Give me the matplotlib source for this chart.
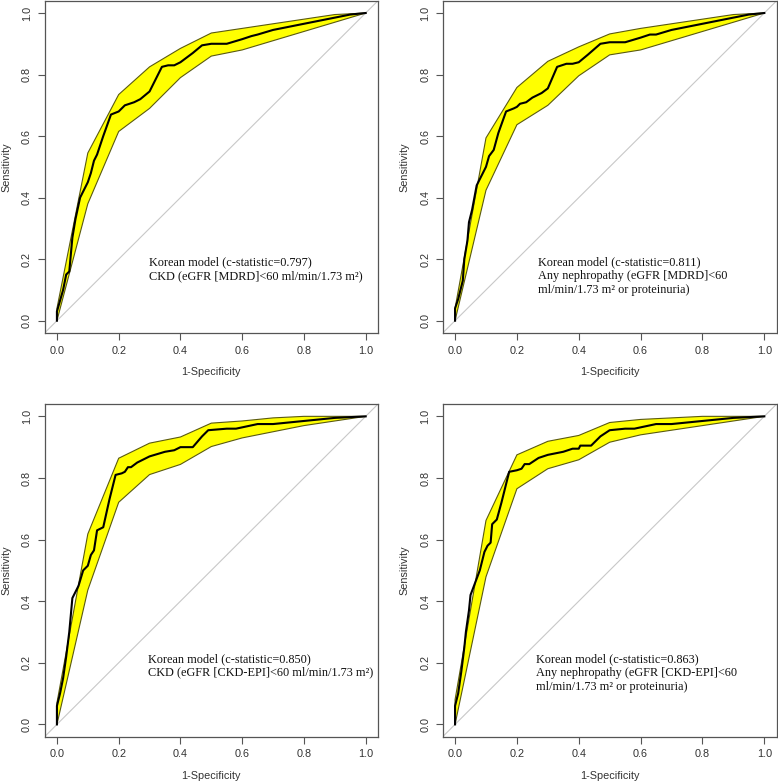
import matplotlib
matplotlib.use("Agg")
import matplotlib.pyplot as plt

# ROC curves (1-specificity, sensitivity) for each panel
fpr_1 = [0, 0, 0.02, 0.03, 0.04, 0.05, 0.06, 0.075, 0.09, 0.10, 0.11, 0.12, 0.13, 0.15, 0.175,
         0.20, 0.21, 0.22, 0.25, 0.27, 0.30, 0.34, 0.36, 0.38, 0.40, 0.44, 0.47, 0.50, 0.55,
         0.60, 0.63, 0.65, 0.70, 0.80, 0.90, 0.95, 1.0]
tpr_1 = [0, 0.03, 0.10, 0.15, 0.16, 0.27, 0.33, 0.40, 0.43, 0.45, 0.48, 0.52, 0.54, 0.60, 0.67,
         0.68, 0.69, 0.70, 0.71, 0.72, 0.745, 0.825, 0.83, 0.83, 0.84, 0.87, 0.895, 0.90, 0.90,
         0.915, 0.925, 0.93, 0.945, 0.965, 0.985, 0.995, 1.0]

fpr_2 = [0, 0, 0.01, 0.025, 0.03, 0.04, 0.045, 0.055, 0.07, 0.08, 0.09, 0.10, 0.11, 0.125, 0.14,
         0.165, 0.19, 0.20, 0.21, 0.23, 0.25, 0.28, 0.30, 0.33, 0.36, 0.38, 0.40, 0.43, 0.47,
         0.50, 0.55, 0.60, 0.63, 0.65, 0.70, 0.80, 0.90, 0.95, 1.0]
tpr_2 = [0, 0.04, 0.07, 0.13, 0.20, 0.26, 0.32, 0.36, 0.44, 0.46, 0.48, 0.50, 0.535, 0.555, 0.61,
         0.68, 0.69, 0.695, 0.705, 0.71, 0.725, 0.74, 0.755, 0.825, 0.835, 0.835, 0.84, 0.865, 0.90,
         0.905, 0.905, 0.92, 0.93, 0.93, 0.945, 0.965, 0.985, 0.995, 1.0]

fpr_3 = [0, 0, 0.01, 0.02, 0.03, 0.04, 0.05, 0.07, 0.085, 0.10, 0.11, 0.12, 0.13, 0.15, 0.17,
         0.19, 0.21, 0.22, 0.23, 0.24, 0.26, 0.30, 0.35, 0.38, 0.40, 0.44, 0.47, 0.49, 0.55,
         0.58, 0.65, 0.70, 0.80, 0.90, 1.0]
tpr_3 = [0, 0.06, 0.10, 0.15, 0.22, 0.30, 0.41, 0.45, 0.50, 0.515, 0.55, 0.565, 0.63, 0.64, 0.73,
         0.81, 0.815, 0.82, 0.835, 0.835, 0.85, 0.87, 0.885, 0.89, 0.90, 0.90, 0.935, 0.955, 0.96,
         0.96, 0.975, 0.975, 0.985, 0.995, 1.0]

fpr_4 = [0, 0, 0.01, 0.02, 0.03, 0.035, 0.045, 0.05, 0.065, 0.08, 0.085, 0.095, 0.105, 0.115, 0.12,
         0.135, 0.15, 0.175, 0.20, 0.215, 0.225, 0.24, 0.27, 0.30, 0.35, 0.38, 0.40, 0.405, 0.44,
         0.47, 0.50, 0.55, 0.58, 0.65, 0.70, 0.80, 0.90, 1.0]
tpr_4 = [0, 0.06, 0.10, 0.17, 0.25, 0.30, 0.37, 0.42, 0.46, 0.50, 0.52, 0.56, 0.58, 0.59, 0.65,
         0.665, 0.72, 0.82, 0.825, 0.83, 0.845, 0.845, 0.865, 0.875, 0.885, 0.895, 0.895, 0.905, 0.905,
         0.935, 0.955, 0.96, 0.96, 0.975, 0.975, 0.985, 0.995, 1.0]

# confidence band of sensitivity at fixed 1-specificity
ci_x = [0.0, 0.1, 0.2, 0.3, 0.4, 0.5, 0.6, 0.7, 0.8, 0.9, 1.0]
ci_hi_1 = [0.04, 0.545, 0.735, 0.825, 0.885, 0.935, 0.95, 0.965, 0.98, 0.995, 1.0]
ci_lo_1 = [0.0, 0.38, 0.615, 0.69, 0.79, 0.86, 0.88, 0.91, 0.94, 0.97, 1.0]
ci_hi_2 = [0.04, 0.594, 0.758, 0.843, 0.89, 0.932, 0.95, 0.965, 0.98, 0.995, 1.0]
ci_lo_2 = [0.0, 0.424, 0.637, 0.70, 0.796, 0.864, 0.88, 0.91, 0.94, 0.97, 1.0]
ci_hi_3 = [0.07, 0.618, 0.864, 0.913, 0.933, 0.978, 0.985, 0.995, 1.0, 1.0, 1.0]
ci_lo_3 = [0.0, 0.436, 0.721, 0.811, 0.844, 0.902, 0.93, 0.95, 0.97, 0.985, 1.0]
ci_hi_4 = [0.08, 0.662, 0.875, 0.919, 0.938, 0.98, 0.99, 0.995, 1.0, 1.0, 1.0]
ci_lo_4 = [0.0, 0.479, 0.765, 0.83, 0.859, 0.916, 0.94, 0.955, 0.97, 0.985, 1.0]

labels = [
    "Korean model (c-statistic=0.797)\nCKD (eGFR [MDRD]<60 ml/min/1.73 m\u00b2)",
    "Korean model (c-statistic=0.811)\nAny nephropathy (eGFR [MDRD]<60\nml/min/1.73 m\u00b2 or proteinuria)",
    "Korean model (c-statistic=0.850)\nCKD (eGFR [CKD-EPI]<60 ml/min/1.73 m\u00b2)",
    "Korean model (c-statistic=0.863)\nAny nephropathy (eGFR [CKD-EPI]<60\nml/min/1.73 m\u00b2 or proteinuria)",
]
label_pos = [(0.298, 0.21), (0.267, 0.21), (0.294, 0.232), (0.263, 0.232)]

panels = [
    (fpr_1, tpr_1, ci_hi_1, ci_lo_1),
    (fpr_2, tpr_2, ci_hi_2, ci_lo_2),
    (fpr_3, tpr_3, ci_hi_3, ci_lo_3),
    (fpr_4, tpr_4, ci_hi_4, ci_lo_4),
]

# axes rectangles (left, bottom, width, height) in figure fraction
rects = [
    (0.0573, 0.5747, 0.4286, 0.4244),
    (0.5690, 0.5747, 0.4293, 0.4244),
    (0.0573, 0.0591, 0.4286, 0.4249),
    (0.5690, 0.0591, 0.4293, 0.4249),
]

fig = plt.figure(figsize=(7.78, 7.83), dpi=100)
box_col = "#555555"
txt_col = "#333333"

for i, (fx, ty, hi, lo) in enumerate(panels):
    ax = fig.add_axes(rects[i])
    ax.set_xlim(-0.04, 1.04)
    ax.set_ylim(-0.04, 1.04)

    # diagonal reference line across the whole box
    ax.plot([-0.04, 1.04], [-0.04, 1.04], color="#c8c8c8", lw=0.8, zorder=1)

    band_x = ci_x + ci_x[::-1]
    band_y = hi + lo[::-1]
    ax.fill(band_x, band_y, facecolor="#ffff00", edgecolor="#5a5a10", lw=0.8, zorder=2)
    ax.plot(fx, ty, color="black", lw=1.5, zorder=3)

    ax.text(label_pos[i][0], label_pos[i][1], labels[i], family="Liberation Serif",
            fontsize=8.8, va="top", ha="left", linespacing=1.2, color="#111111")

    ticks = [0.0, 0.2, 0.4, 0.6, 0.8, 1.0]
    ax.set_xticks(ticks)
    ax.set_yticks(ticks)
    ax.set_xticklabels(["%.1f" % t for t in ticks])
    ax.set_yticklabels(["%.1f" % t for t in ticks], rotation=90, va="center")
    ax.tick_params(length=5, width=0.8, color=box_col, labelcolor=txt_col,
                   labelsize=7.8, pad=4)
    for lab in ax.get_xticklabels() + ax.get_yticklabels():
        lab.set_family("Liberation Sans")
    for sp in ax.spines.values():
        sp.set_color(box_col)
        sp.set_linewidth(0.9)

    ax.set_xlabel("1-Specificity", family="Liberation Sans", fontsize=7.8, color=txt_col)
    ax.set_ylabel("Sensitivity", family="Liberation Sans", fontsize=7.8, color=txt_col)
    ax.xaxis.set_label_coords(0.5, -0.102)
    ax.yaxis.set_label_coords(-0.099, 0.5)

fig.savefig("out.png", dpi=100)
